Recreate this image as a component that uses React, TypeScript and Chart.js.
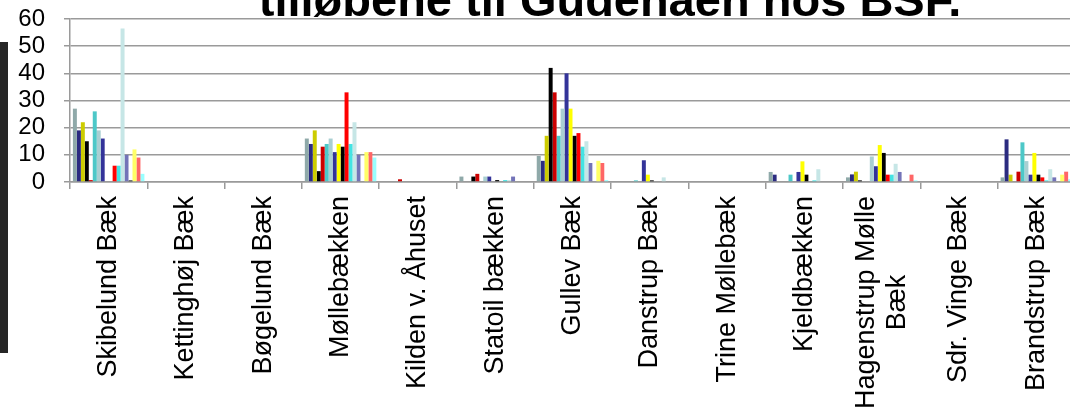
import React, { useEffect, useRef } from 'react';
import { Chart, registerables } from 'chart.js';

Chart.register(...registerables);

const title = 'tilløbene til Gudenåen hos BSF.';

const categories: (string | string[])[] = [
  'Skibelund Bæk',
  'Kettinghøj Bæk',
  'Bøgelund Bæk',
  'Møllebækken',
  'Kilden v. Åhuset',
  'Statoil bækken',
  'Gullev Bæk',
  'Danstrup Bæk',
  'Trine Møllebæk',
  'Kjeldbækken',
  ['Hagenstrup Mølle', 'Bæk'],
  'Sdr. Vinge Bæk',
  'Brandstrup Bæk',
];

// values per category, one per series (18 series)
const skibelund = [27, 19, 22, 15, 0.7, 26, 19, 16, 0, 0, 6, 6, 56.5, 10, 0.6, 12, 9, 3];
const kettinghoj = [0, 0, 0, 0, 0, 0, 0, 0, 0, 0, 0, 0, 0, 0, 0, 0, 0, 0];
const bogelund = [0, 0, 0, 0, 0, 0, 0, 0, 0, 0, 0, 0, 0, 0, 0, 0, 0, 0];
const mollebaekken = [16, 14, 19, 4, 13, 14, 16, 11, 14, 13, 33, 14, 22, 10, 0, 11, 11, 9];
const kilden = [0, 0, 0, 0, 1, 0, 0, 0, 0, 0, 0, 0, 0, 0, 0, 0, 0, 0];
const statoil = [2, 0, 0, 2, 3, 0, 2, 2, 0, 0.7, 0, 0.7, 0.7, 2, 0, 0, 0, 0];
const gullev = [9.6, 7.8, 17, 42, 33, 17, 27, 40, 27, 17, 18, 13, 15, 7, 0, 7.8, 7, 0.7];
const danstrup = [0, 0, 0, 0, 0, 0.6, 0, 8, 2.7, 0.6, 0, 0, 1.7, 0, 0, 0, 0, 0];
const trine = [0, 0, 0, 0, 0, 0, 0, 0, 0, 0, 0, 0, 0, 0, 0, 0, 0, 0];
const kjeldbaekken = [3.7, 2.7, 0, 0, 0, 2.7, 0, 3.7, 7.6, 2.7, 0, 0.6, 4.7, 0, 0, 0, 0, 0];
const hagenstrup = [1.7, 2.8, 3.8, 0.6, 0, 0, 9.4, 5.8, 13.6, 10.7, 2.7, 2.7, 6.7, 3.7, 0, 0, 2.7, 0.6];
const sdrVinge = [0, 0, 0, 0, 0, 0, 0, 0, 0, 0, 0, 0, 0, 0, 0, 0, 0, 0];
const brandstrup = [1.7, 15.7, 2.7, 0, 3.8, 14.6, 7.7, 2.7, 10.7, 2.7, 1.7, 0.6, 4.7, 1.7, 0, 2.7, 3.8, 1];

const rows = [
  skibelund, kettinghoj, bogelund, mollebaekken, kilden, statoil, gullev,
  danstrup, trine, kjeldbaekken, hagenstrup, sdrVinge, brandstrup,
];

const seriesColors = [
  '#8fa9a9', '#2b2b80', '#cccc00', '#000000', '#cc0000', '#4dc8c8',
  '#a9cfd2', '#333399', '#ffff00', '#000000', '#ff0000', '#44e3e3',
  '#c6e6e6', '#7373b8', '#222222', '#ffff66', '#ff6666', '#99ffff',
];

const yTicks = [0, 10, 20, 30, 40, 50, 60];

const gridColor = '#9a9a9a';
const FONT = '"Liberation Sans", Arial, sans-serif';

const labelPlugin = {
  id: 'customLabels',
  afterDraw(chart: any) {
    const { ctx, chartArea } = chart;
    const xs = chart.scales.x;
    ctx.save();
    ctx.fillStyle = '#000';
    ctx.font = `27px ${FONT}`;
    ctx.textAlign = 'center';
    ctx.textBaseline = 'middle';
    const lineH = 31;
    categories.forEach((lab, i) => {
      const lines = Array.isArray(lab) ? lab : [lab];
      const w = Math.max(...lines.map((l) => ctx.measureText(l).width));
      const cx = xs.getPixelForValue(i);
      ctx.save();
      ctx.translate(cx, chartArea.bottom + 14);
      ctx.rotate(-Math.PI / 2);
      lines.forEach((l, j) => {
        ctx.fillText(l, -w / 2, (j - (lines.length - 1) / 2) * lineH);
      });
      ctx.restore();
    });
    ctx.font = `bold 47px ${FONT}`;
    ctx.textAlign = 'center';
    ctx.textBaseline = 'alphabetic';
    ctx.fillText(title, 610, 16);
    ctx.restore();
  },
};

export default function App() {
  const ref = useRef<HTMLCanvasElement | null>(null);

  useEffect(() => {
    if (!ref.current) return;
    const datasets = seriesColors.map((c, s) => ({
      label: `Serie ${s + 1}`,
      data: rows.map((r) => r[s]),
      backgroundColor: c,
      borderWidth: 0,
      categoryPercentage: 0.925,
      barPercentage: 1,
    }));
    const chart = new Chart(ref.current, {
      type: 'bar',
      data: { labels: categories as any, datasets },
      options: {
        animation: false,
        responsive: false,
        devicePixelRatio: 1,
        layout: { padding: { top: 19, right: 5, left: 0, bottom: 0 } },
        plugins: {
          legend: { display: false },
          tooltip: { enabled: false },
          title: { display: false },
        },
        scales: {
          x: {
            grid: {
              display: true,
              drawOnChartArea: false,
              drawTicks: true,
              tickLength: 7,
              color: gridColor,
              lineWidth: 1.5,
              offset: true,
            },
            border: { display: true, color: gridColor, width: 1.5 },
            ticks: { display: false },
            afterFit: (s: any) => {
              s.height = 225;
            },
          },
          y: {
            min: yTicks[0],
            max: yTicks[yTicks.length - 1],
            afterBuildTicks: (s: any) => {
              s.ticks = yTicks.map((v) => ({ value: v }));
            },
            ticks: {
              stepSize: 10,
              autoSkip: false,
              color: '#000',
              padding: 19,
              font: { family: FONT, size: 24 },
            },
            grid: {
              color: gridColor,
              lineWidth: 1.5,
              drawTicks: true,
              tickLength: 6,
            },
            border: { display: true, color: gridColor, width: 1.5 },
            afterFit: (s: any) => {
              s.width = 70;
              s.paddingTop = 0;
              s.paddingBottom = 0;
            },
          },
        },
      },
      plugins: [labelPlugin],
    } as any);
    return () => chart.destroy();
  }, []);

  return (
    <div
      style={{
        position: 'fixed',
        left: 0,
        top: 0,
        width: 1070,
        height: 407,
        overflow: 'hidden',
        background: '#fff',
      }}
    >
      <canvas ref={ref} width={1080} height={407} style={{ position: 'absolute', left: 0, top: 0, width: 1080, height: 407 }} />
      <div
        style={{
          position: 'absolute',
          left: 0,
          top: 42,
          width: 8,
          height: 311,
          background: '#262626',
        }}
      />
    </div>
  );
}
